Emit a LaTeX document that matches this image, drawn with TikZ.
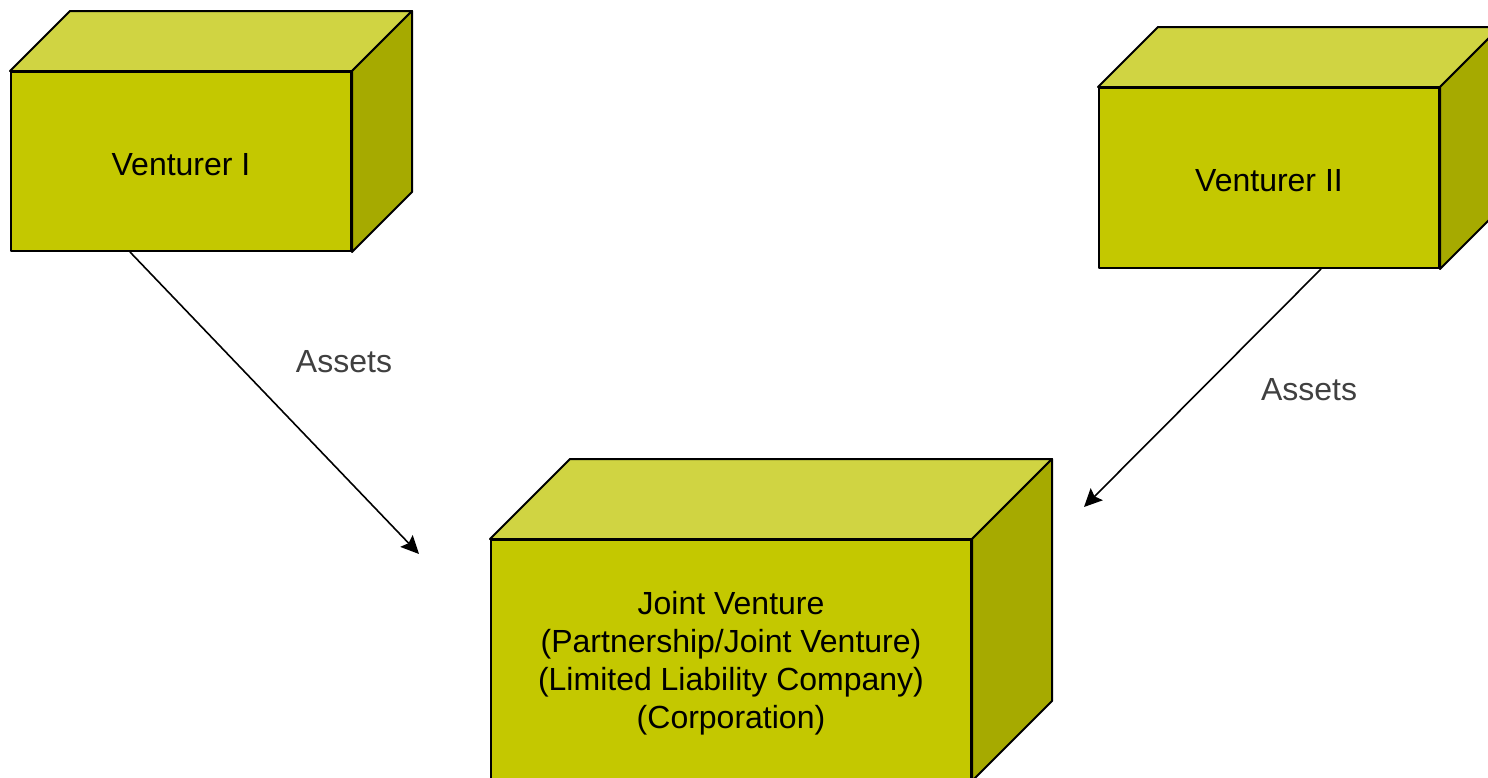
\documentclass[tikz,border=0pt]{standalone}
\usepackage{fontspec}
\setmainfont{Liberation Sans}
\usetikzlibrary{calc,arrows.meta}
\definecolor{frontc}{RGB}{196,200,0}
\definecolor{topc}{RGB}{208,212,66}
\definecolor{sidec}{RGB}{166,170,0}
\definecolor{labelc}{RGB}{64,64,64}
\tikzset{
  face/.style={draw=black,line width=2pt,line join=round},
  front/.style={face,fill=frontc,rectangle,inner sep=0pt},
  boxtext/.style={align=center,font=\fontsize{32}{38}\selectfont,text=black,yshift=-3pt},
  flow/.style={draw=black,line width=1.6pt,-{Stealth[length=18pt,width=17pt,inset=3pt]}},
  lbl/.style={font=\fontsize{32}{38}\selectfont,text=labelc}
}
% draws the top and right faces of a box whose front face is node #1, depth #2
\newcommand{\boxfaces}[2]{%
  \filldraw[face,fill=topc] (#1.north west) -- ($(#1.north west)+(#2,-#2)$)
    -- ($(#1.north east)+(#2,-#2)$) -- (#1.north east) -- cycle;
  \filldraw[face,fill=sidec] (#1.north east) -- ($(#1.north east)+(#2,-#2)$)
    -- ($(#1.south east)+(#2,-#2)$) -- (#1.south east) -- cycle;
}
\begin{document}
\begin{tikzpicture}[x=1pt,y=-1pt]
\useasboundingbox (0,0) rectangle (1488,777);
\begin{scope}
\clip (0,0) rectangle (1488,777);
% front faces
\node[front,minimum width=340pt,minimum height=179pt] (v1) at (181,161.5) {};
\node[front,minimum width=340pt,minimum height=180pt] (v2) at (1269,178) {};
\node[front,minimum width=480pt,minimum height=240pt] (jv) at (731,660) {};
\boxfaces{v1}{60}
\boxfaces{v2}{60}
\boxfaces{jv}{80}
\end{scope}
% box texts
\node[boxtext] (t1) at (v1.center) {Venturer I};
\node[boxtext] (t2) at (v2.center) {Venturer II};
\node[boxtext] (t3) at (jv.center)
  {Joint Venture\\(Partnership/Joint Venture)\\(Limited Liability Company)\\(Corporation)};
% arrow end points
\coordinate (e1) at (419,554);
\coordinate (e2) at (1084,507);
\draw[flow] ($(v1.south west)+(120,0)$) -- (e1);
\draw[flow] ($(v2.south west)+(223,0)$) -- (e2);
% labels
\node[lbl] (a1) at (344,362) {Assets};
\node[lbl] (a2) at (1309,390) {Assets};
\end{tikzpicture}
\end{document}
